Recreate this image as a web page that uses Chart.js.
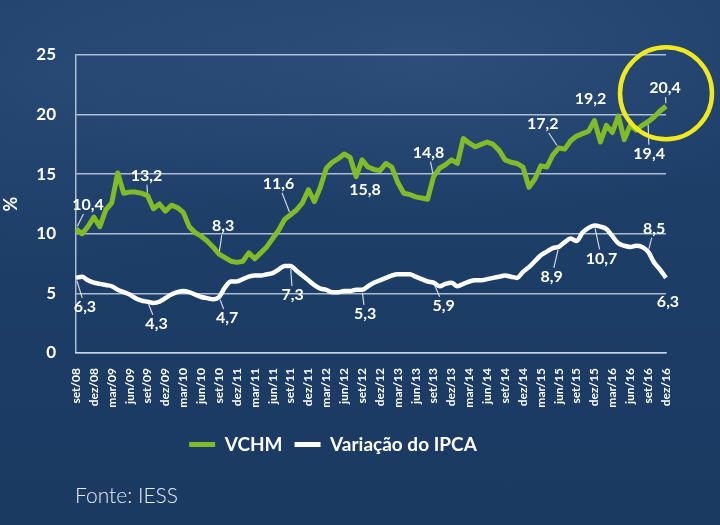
<!DOCTYPE html>
<html>
<head>
<meta charset="utf-8">
<script src="https://cdn.jsdelivr.net/npm/chart.js@4.4.1/dist/chart.umd.min.js"></script>
<style>
  html, body { margin: 0; padding: 0; }
  body {
    width: 720px; height: 525px; overflow: hidden; position: relative;
    background:
      radial-gradient(ellipse 420px 160px at 420px 60px, rgba(70,105,150,0.35), rgba(70,105,150,0) 100%),
      radial-gradient(ellipse 300px 200px at 40px 80px, rgba(60,95,140,0.25), rgba(60,95,140,0) 100%),
      linear-gradient(180deg, #1f416b 0%, #1c3d66 55%, #1b3a62 100%);
  }
  #chart { position: absolute; left: 0; top: 0; }
  .fonte {
    position: absolute; left: 75px; top: 482px;
    font-family: Lato, sans-serif; font-weight: 300; font-size: 21px; color: #e6edf5;
  }
</style>
</head>
<body>
<canvas id="chart" width="720" height="525"></canvas>
<div class="fonte">Fonte: IESS</div>
<script>
// meses de set/08 a dez/16
const months = [];
const monthNames = ['jan','fev','mar','abr','mai','jun','jul','ago','set','out','nov','dez'];
for (let m = 8; m < 8 + 100; m++) {
  months.push(monthNames[m % 12] + '/' + String(8 + Math.floor(m / 12)).padStart(2, '0'));
}

// rótulos trimestrais como aparecem no gráfico original
const tickLabels = ['set/08','dez/08','mar/09','jun/09','set/09','dez/09','mar/10','jun/10','set/10','dez/11',
  'mar/11','jun/11','set/11','dez/11','mar/12','jun/12','set/12','dez/12','mar/13','jun/13','set/13','dez/13',
  'mar/14','jun/14','set/14','dez/14','mar/15','jun/15','set/15','dez/15','mar/16','jun/16','set/16','dez/16'];

const vchm = [
  10.4, 10.0, 10.6, 11.4, 10.6, 12.0, 12.6, 15.1, 13.4, 13.5,
  13.5, 13.4, 13.2, 12.1, 12.5, 11.9, 12.4, 12.2, 11.8, 10.6,
  10.1, 9.8, 9.4, 8.9, 8.3, 8.0, 7.7, 7.6, 7.7, 8.4,
  7.9, 8.4, 8.9, 9.6, 10.3, 11.2, 11.6, 12.0, 12.6, 13.7,
  12.7, 13.9, 15.5, 16.0, 16.3, 16.7, 16.4, 14.8, 16.2, 15.6,
  15.4, 15.3, 15.9, 15.6, 14.3, 13.4, 13.3, 13.1, 13.0, 12.9,
  14.8, 15.5, 15.8, 16.2, 15.9, 18.0, 17.6, 17.3, 17.5, 17.7,
  17.5, 17.0, 16.2, 16.0, 15.9, 15.6, 13.9, 14.6, 15.7, 15.6,
  16.6, 17.2, 17.1, 17.8, 18.2, 18.4, 18.6, 19.5, 17.7, 19.1,
  18.5, 19.9, 17.9, 19.1, 18.7, 19.1, 19.4, 19.8, 20.3, 20.7
];

const ipca = [
  6.3, 6.4, 6.1, 5.9, 5.8, 5.7, 5.6, 5.3, 5.1, 4.9,
  4.6, 4.4, 4.3, 4.2, 4.3, 4.6, 4.9, 5.1, 5.2, 5.1,
  4.9, 4.7, 4.6, 4.5, 4.7, 5.5, 6.0, 6.0, 6.2, 6.4,
  6.5, 6.5, 6.6, 6.7, 7.0, 7.3, 7.3, 6.9, 6.5, 6.1,
  5.7, 5.4, 5.3, 5.1, 5.1, 5.2, 5.2, 5.3, 5.3, 5.6,
  5.9, 6.1, 6.3, 6.5, 6.6, 6.6, 6.6, 6.4, 6.2, 6.0,
  5.9, 5.6, 5.8, 5.9, 5.6, 5.8, 6.0, 6.1, 6.1, 6.2,
  6.3, 6.4, 6.5, 6.4, 6.3, 6.8, 7.2, 7.7, 8.2, 8.5,
  8.8, 8.9, 9.3, 9.6, 9.4, 10.1, 10.5, 10.7, 10.6, 10.4,
  9.8, 9.2, 9.0, 8.9, 9.0, 8.9, 8.5, 7.6, 7.0, 6.3
];

// valores destacados no gráfico
const vchmNoteIdx = [0, 12, 24, 36, 48, 60, 81, 87, 96, 99];
const vchmNoteText = ['10,4', '13,2', '8,3', '11,6', '15,8', '14,8', '17,2', '19,2', '19,4', '20,4'];
const ipcaNoteIdx = [0, 12, 24, 36, 48, 60, 81, 87, 96, 99];
const ipcaNoteText = ['6,3', '4,3', '4,7', '7,3', '5,3', '5,9', '8,9', '10,7', '8,5', '6,3'];

const GREEN = '#82bb28';
const GRID = 'rgba(210,220,235,0.8)';

// deslocamento [dx, dy, linha guia] de cada rótulo em relação ao ponto
const vchmNoteLayout = [[12,-24,1],[-1,-20,1],[4,-28,1],[-12,-31,1],[3,30,0],[-5,-24,1],[-16,-24,1],[-4,-22,0],[1,32,1],[-1,-18,1]];
const ipcaNoteLayout = [[9,29,1],[9,22,1],[8,21,1],[2,29,1],[3,24,1],[10,23,1],[-7,30,1],[7,33,1],[6,-23,1],[2,24,0]];

const notesPlugin = {
  id: 'notes',
  afterDatasetsDraw(chart) {
    const ctx = chart.ctx;
    ctx.save();
    ctx.font = 'bold 16px Lato, sans-serif';
    ctx.textAlign = 'center';
    ctx.textBaseline = 'middle';
    const groups = [[0, vchmNoteIdx, vchmNoteText, vchmNoteLayout], [1, ipcaNoteIdx, ipcaNoteText, ipcaNoteLayout]];
    groups.forEach(([ds, idx, txt, lay]) => {
      const meta = chart.getDatasetMeta(ds);
      idx.forEach((i, k) => {
        const p = meta.data[i];
        const [dx, dy, guide] = lay[k];
        const cx = p.x + dx, cy = p.y + dy;
        if (guide) {
          const hw = ctx.measureText(txt[k]).width / 2 + 2, hh = 9;
          const t = Math.min(dx ? hw / Math.abs(dx) : 99, dy ? hh / Math.abs(dy) : 99);
          const len = Math.hypot(dx, dy);
          const sx = p.x + dx / len * 3, sy = p.y + dy / len * 3;
          const ex = cx - dx * t, ey = cy - dy * t;
          ctx.strokeStyle = 'rgba(225,232,242,0.9)';
          ctx.lineWidth = 1.2;
          ctx.beginPath();
          ctx.moveTo(sx, sy);
          ctx.lineTo(ex, ey);
          ctx.stroke();
        }
        ctx.fillStyle = '#ffffff';
        ctx.fillText(txt[k], cx, cy);
      });
    });
    // círculo amarelo no último ponto
    const last = chart.getDatasetMeta(0).data[vchm.length - 1];
    ctx.strokeStyle = '#f1e91e';
    ctx.lineWidth = 4.5;
    ctx.beginPath();
    ctx.arc(last.x, last.y - 13, 46, 0, Math.PI * 2);
    ctx.stroke();
    ctx.restore();
  }
};

const ctx = document.getElementById('chart').getContext('2d');
const chart = new Chart(ctx, {
  type: 'line',
  data: {
    labels: months,
    datasets: [{
      label: 'VCHM',
      data: vchm,
      borderColor: GREEN,
      backgroundColor: GREEN,
      borderWidth: 5,
      pointRadius: 0,
      tension: 0,
      borderJoinStyle: 'round',
      clip: 10
    }, {
      label: 'Variação do IPCA',
      data: ipca,
      borderColor: '#ffffff',
      backgroundColor: '#ffffff',
      borderWidth: 4.5,
      pointRadius: 0,
      tension: 0.4,
      cubicInterpolationMode: 'monotone',
      borderJoinStyle: 'round',
      clip: 10
    }]
  },
  options: {
    responsive: false,
    animation: false,
    layout: { padding: { top: 55, left: 0, right: 54, bottom: 61 } },
    scales: {
      x: {
        grid: { display: false },
        border: { display: true, color: GRID, width: 1.5 },
        afterFit(scale) { scale.height = 70; },
        ticks: {
          color: '#ffffff',
          font: { family: 'Lato', size: 12, weight: 'bold' },
          minRotation: 90,
          maxRotation: 90,
          autoSkip: false,
          padding: 7,
          callback: (v, i) => (i % 3 === 0 ? tickLabels[i / 3] : '')
        }
      },
      y: {
        min: 0,
        max: 25,
        afterFit(scale) { scale.width = 76; },
        grid: { color: GRID, lineWidth: 1.5, drawTicks: false },
        border: { display: true, color: GRID, width: 1.5 },
        ticks: {
          stepSize: 5,
          color: '#ffffff',
          padding: 20,
          font: { family: 'Lato', size: 17, weight: 'bold' }
        },
        title: {
          display: true,
          text: '%',
          color: '#ffffff',
          padding: { top: 0, bottom: 0 },
          font: { family: 'Lato', size: 18, weight: 'bold' }
        }
      }
    },
    plugins: {
      legend: {
        position: 'bottom',
        labels: {
          color: '#ffffff',
          boxWidth: 26,
          boxHeight: 5,
          padding: 12,
          font: { family: 'Lato', size: 19, weight: 'bold' },
          generateLabels(chart) {
            return Chart.defaults.plugins.legend.labels.generateLabels(chart)
              .map(item => ({ ...item, lineWidth: 0 }));
          }
        }
      },
      tooltip: { enabled: false }
    }
  },
  plugins: [notesPlugin]
});
</script>
</body>
</html>
